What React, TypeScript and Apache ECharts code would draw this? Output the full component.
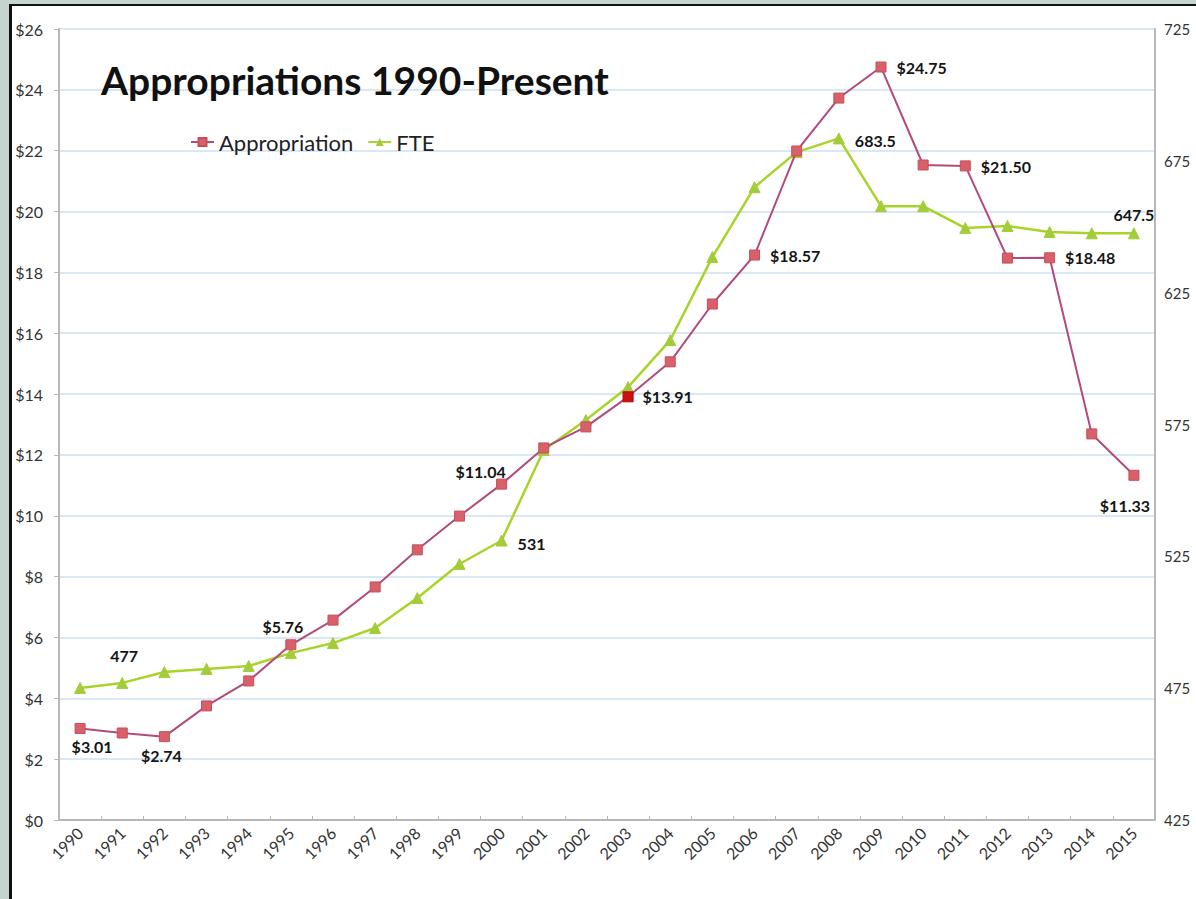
import React, { useEffect, useRef } from "react";
import * as echarts from "echarts";

const years = [
  "1990", "1991", "1992", "1993", "1994", "1995", "1996", "1997", "1998", "1999",
  "2000", "2001", "2002", "2003", "2004", "2005", "2006", "2007", "2008", "2009",
  "2010", "2011", "2012", "2013", "2014", "2015",
];

const appropriation = [
  3.01, 2.86, 2.74, 3.75, 4.57, 5.76, 6.57, 7.66, 8.88, 9.99,
  11.04, 12.23, 12.92, 13.91, 15.06, 16.96, 18.57, 21.99, 23.73, 24.75,
  21.53, 21.5, 18.47, 18.48, 12.69, 11.33,
];

const fte = [
  475.1, 477, 481.1, 482.3, 483.4, 488.3, 492.1, 497.8, 509.2, 522.1,
  531, 565.3, 576.7, 589.2, 607.0, 638.5, 665.0, 678.3, 683.5, 657.8,
  657.8, 649.5, 650.3, 648, 647.5, 647.5,
];

const leftTicks = { min: 0, max: 26, interval: 2 };
const rightTicks = { min: 425, max: 725, interval: 25, labelStep: 50 };

// label placement (style only)
const appLabelPlacement: Record<number, { position: string; offset: number[] }> = {
  0: { position: "bottom", offset: [12, 0] },
  2: { position: "bottom", offset: [-3, 0] },
  5: { position: "top", offset: [-8, 0] },
  10: { position: "top", offset: [-21, 6] },
  13: { position: "right", offset: [4, 0] },
  16: { position: "right", offset: [5, 0] },
  19: { position: "right", offset: [5, 0] },
  21: { position: "right", offset: [5, 1] },
  23: { position: "right", offset: [5, 0] },
  25: { position: "bottom", offset: [-9, 12] },
};
const fteLabelPlacement: Record<number, { position: string; offset: number[] }> = {
  1: { position: "top", offset: [2, -8] },
  10: { position: "right", offset: [5, 3] },
  18: { position: "right", offset: [5, 2] },
  25: { position: "top", offset: [0, 0] },
};
const highlightIndex = 13;

const FONT = "Lato, 'Noto Sans', sans-serif";

export default function App() {
  const ref = useRef<HTMLDivElement>(null);

  useEffect(() => {
    if (!ref.current) return;
    const chart = echarts.init(ref.current, undefined, { renderer: "svg" });

    const labelStyle = {
      fontFamily: FONT,
      fontWeight: "bold" as const,
      fontSize: 16,
      color: "#151515",
    };

    const appData = appropriation.map((v, i) => {
      const p = appLabelPlacement[i];
      const item: any = { value: v };
      if (p) {
        item.label = {
          show: true,
          position: p.position,
          offset: p.offset,
          formatter: "$" + v.toFixed(2),
          ...labelStyle,
        };
      }
      if (i === highlightIndex) {
        item.itemStyle = { color: "#cc1010", borderColor: "#b00000" };
      }
      return item;
    });

    const fteData = fte.map((v, i) => {
      const p = fteLabelPlacement[i];
      const item: any = { value: v };
      if (p) {
        item.label = {
          show: true,
          position: p.position,
          offset: p.offset,
          formatter: String(v),
          ...labelStyle,
        };
      }
      return item;
    });

    chart.setOption({
      animation: false,
      backgroundColor: "transparent",
      textStyle: { fontFamily: FONT },
      title: {
        text: "Appropriations 1990-Present",
        left: 96,
        top: 55,
        textStyle: {
          fontFamily: FONT,
          fontWeight: "bold",
          fontSize: 39,
          color: "#111",
        },
      },
      legend: {
        left: 185,
        top: 126,
        itemWidth: 23,
        itemHeight: 10,
        itemGap: 14,
        textStyle: { fontFamily: FONT, fontSize: 22, color: "#222" },
        data: ["Appropriation", "FTE"],
      },
      grid: {
        left: 59,
        right: 41,
        top: 29,
        bottom: 79,
        containLabel: false,
        outerBoundsMode: "none",
      },
      xAxis: {
        type: "category",
        data: years,
        boundaryGap: true,
        axisLine: { lineStyle: { color: "#b8b8b8", width: 2 } },
        axisTick: { show: true, inside: true, length: 4, lineStyle: { color: "#b8b8b8" } },
        axisLabel: {
          rotate: 45,
          interval: 0,
          margin: 10,
          fontFamily: FONT,
          fontSize: 16,
          color: "#333",
        },
      },
      yAxis: [
        {
          type: "value",
          min: leftTicks.min,
          max: leftTicks.max,
          interval: leftTicks.interval,
          axisLine: { show: true, lineStyle: { color: "#b8b8b8", width: 2 } },
          axisTick: { show: true, length: 5, lineStyle: { color: "#b8b8b8" } },
          axisLabel: {
            formatter: (v: number) => "$" + v,
            margin: 16,
            fontFamily: FONT,
            fontSize: 16,
            color: "#333",
          },
          splitLine: { show: true, lineStyle: { color: "#cde1f3", width: 1.5 } },
        },
        {
          type: "value",
          position: "right",
          min: rightTicks.min,
          max: rightTicks.max,
          interval: rightTicks.interval,
          axisLine: { show: true, lineStyle: { color: "#b8b8b8", width: 2 } },
          axisTick: { show: false },
          axisLabel: {
            formatter: (v: number) =>
              (v - rightTicks.min) % rightTicks.labelStep === 0 ? String(v) : "",
            margin: 9,
            fontFamily: FONT,
            fontSize: 15,
            color: "#333",
          },
          splitLine: { show: false },
        },
      ],
      series: [
        {
          name: "Appropriation",
          type: "line",
          yAxisIndex: 0,
          data: appData,
          symbol: "rect",
          symbolSize: 10,
          lineStyle: { color: "#b24a7c", width: 2 },
          itemStyle: { color: "#d8606a", borderColor: "#c2505a", borderWidth: 1 },
          z: 3,
        },
        {
          name: "FTE",
          type: "line",
          yAxisIndex: 1,
          data: fteData,
          symbol: "triangle",
          symbolSize: 11,
          lineStyle: { color: "#a8d42a", width: 2.5 },
          itemStyle: { color: "#a3cc3a", borderColor: "#a3cc3a" },
          z: 2,
        },
      ],
    });

    return () => chart.dispose();
  }, []);

  return (
    <div
      style={{
        position: "fixed",
        left: 0,
        top: 0,
        width: 1196,
        height: 899,
        background: "#c5d4ce",
        overflow: "hidden",
      }}
    >
      <div
        style={{
          position: "absolute",
          left: 9,
          top: 4,
          width: 1187,
          height: 895,
          background: "#ffffff",
          borderLeft: "3px solid #111",
          borderTop: "2px solid #111",
          boxSizing: "border-box",
        }}
      />
      <div
        ref={ref}
        style={{ position: "absolute", left: 0, top: 0, width: 1196, height: 899 }}
      />
    </div>
  );
}
